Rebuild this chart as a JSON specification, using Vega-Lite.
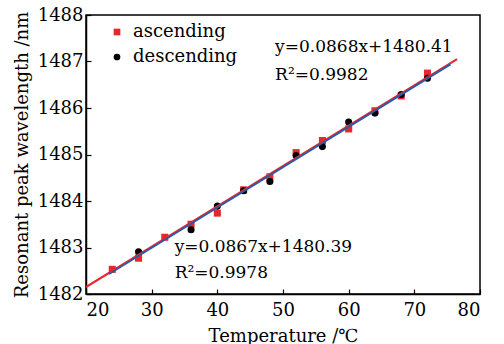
{
  "$schema": "https://vega.github.io/schema/vega-lite/v6.json",
  "width": 394,
  "height": 279,
  "autosize": {"type": "none"},
  "padding": {"left": 86, "top": 15, "right": 24, "bottom": 50},
  "background": "white",
  "config": {
    "view": {"stroke": "black", "strokeWidth": 1.5},
    "font": "DejaVu Serif",
    "axis": {
      "domainColor": "black", "domainWidth": 1.5, "tickColor": "black", "tickWidth": 1.2,
      "tickSize": -5, "grid": false, "labelFont": "DejaVu Serif", "labelFontSize": 18,
      "labelColor": "black", "titleFont": "DejaVu Serif", "titleFontSize": 18,
      "titleFontWeight": "normal", "titleColor": "black"
    }
  },
  "datasets": {
    "points": [
      {"T": 24, "wl": 1482.53, "series": "ascending"},
      {"T": 28, "wl": 1482.77, "series": "ascending"},
      {"T": 32, "wl": 1483.22, "series": "ascending"},
      {"T": 36, "wl": 1483.5, "series": "ascending"},
      {"T": 40, "wl": 1483.74, "series": "ascending"},
      {"T": 44, "wl": 1484.24, "series": "ascending"},
      {"T": 48, "wl": 1484.52, "series": "ascending"},
      {"T": 52, "wl": 1485.04, "series": "ascending"},
      {"T": 56, "wl": 1485.3, "series": "ascending"},
      {"T": 60, "wl": 1485.55, "series": "ascending"},
      {"T": 64, "wl": 1485.94, "series": "ascending"},
      {"T": 68, "wl": 1486.26, "series": "ascending"},
      {"T": 72, "wl": 1486.75, "series": "ascending"},
      {"T": 28, "wl": 1482.91, "series": "descending"},
      {"T": 36, "wl": 1483.38, "series": "descending"},
      {"T": 40, "wl": 1483.89, "series": "descending"},
      {"T": 44, "wl": 1484.22, "series": "descending"},
      {"T": 48, "wl": 1484.42, "series": "descending"},
      {"T": 52, "wl": 1484.98, "series": "descending"},
      {"T": 56, "wl": 1485.17, "series": "descending"},
      {"T": 60, "wl": 1485.7, "series": "descending"},
      {"T": 64, "wl": 1485.89, "series": "descending"},
      {"T": 68, "wl": 1486.29, "series": "descending"},
      {"T": 72, "wl": 1486.64, "series": "descending"}
    ],
    "fitAsc": [
      {"T": 20, "wl": 1482.15},
      {"T": 76.5, "wl": 1487.05}
    ],
    "fitDesc": [
      {"T": 23.5, "wl": 1482.43},
      {"T": 75.5, "wl": 1486.94}
    ],
    "notes": [
      {"T": 48.8, "wl": 1487.31, "txt": "y=0.0868x+1480.41"},
      {"T": 48.8, "wl": 1486.71, "txt": "R²=0.9982"},
      {"T": 33.5, "wl": 1483.02, "txt": "y=0.0867x+1480.39"},
      {"T": 33.5, "wl": 1482.46, "txt": "R²=0.9978"}
    ]
  },
  "layer": [
    {
      "data": {"name": "points"},
      "mark": {"type": "point", "filled": true, "opacity": 1, "size": 50},
      "encoding": {
        "x": {"field": "T", "type": "quantitative", "scale": {"domain": [20, 80], "nice": false},
          "axis": {"values": [20, 30, 40, 50, 60, 70, 80], "title": "Temperature /℃", "labelPadding": 12, "titlePadding": 8}},
        "y": {"field": "wl", "type": "quantitative", "scale": {"domain": [1482, 1488], "nice": false, "zero": false},
          "axis": {"values": [1482, 1483, 1484, 1485, 1486, 1487, 1488], "title": "Resonant peak wavelength /nm", "format": "d", "labelPadding": 8, "titlePadding": 6}},
        "color": {"field": "series", "type": "nominal",
          "scale": {"domain": ["ascending", "descending"], "range": ["#e8272b", "#000000"]},
          "legend": {"title": null, "orient": "none", "legendX": 22, "legendY": 8, "labelFontSize": 18, "labelFont": "DejaVu Serif", "labelColor": "black", "symbolSize": 45, "rowPadding": 7, "labelOffset": 7}},
        "shape": {"field": "series", "type": "nominal",
          "scale": {"domain": ["ascending", "descending"], "range": ["square", "circle"]}}
      }
    },
    {
      "data": {"name": "fitAsc"},
      "mark": {"type": "line", "color": "#e8272b", "strokeWidth": 2, "clip": true},
      "encoding": {"x": {"field": "T", "type": "quantitative"}, "y": {"field": "wl", "type": "quantitative"}}
    },
    {
      "data": {"name": "fitDesc"},
      "mark": {"type": "line", "color": "#2c5aa8", "strokeWidth": 2},
      "encoding": {"x": {"field": "T", "type": "quantitative"}, "y": {"field": "wl", "type": "quantitative"}}
    },
    {
      "data": {"name": "notes"},
      "mark": {"type": "text", "align": "left", "baseline": "middle", "fontSize": 17, "font": "DejaVu Serif", "color": "black"},
      "encoding": {"x": {"field": "T", "type": "quantitative"}, "y": {"field": "wl", "type": "quantitative"}, "text": {"field": "txt"}}
    }
  ]
}
